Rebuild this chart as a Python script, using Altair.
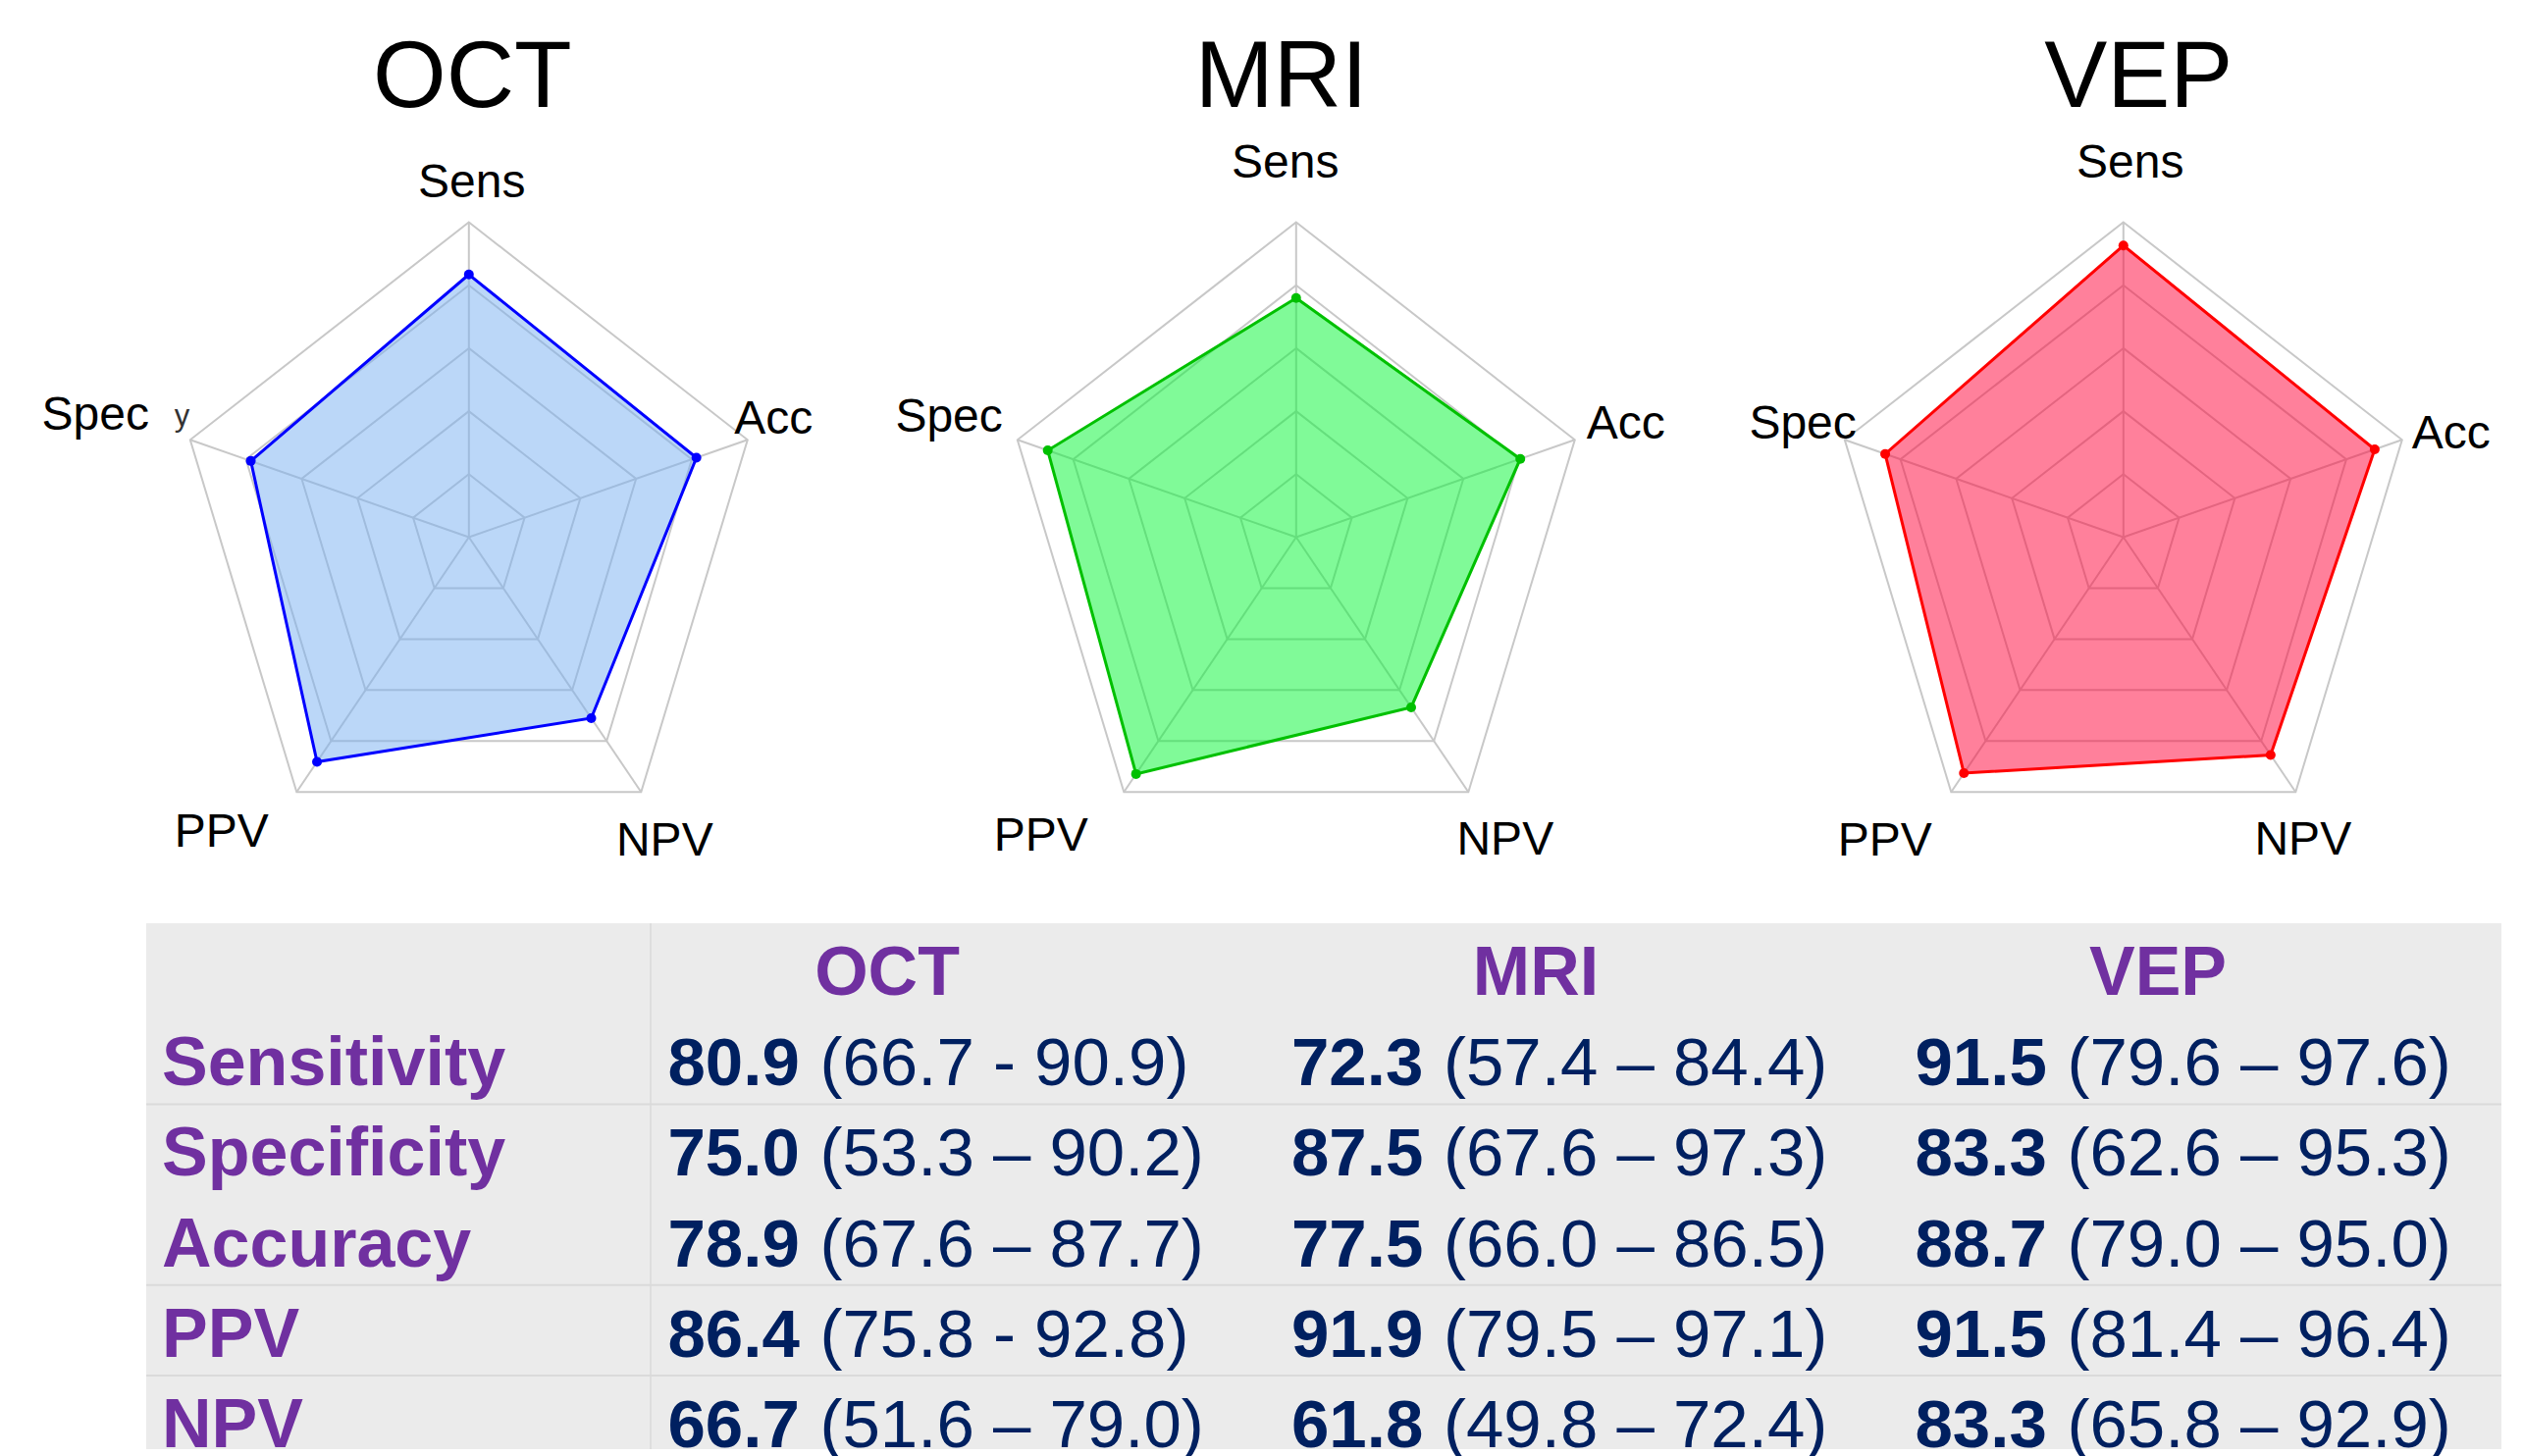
import math
import altair as alt
import pandas as pd

# ------------------------------------------------------------------ data
modalities = ["OCT", "MRI", "VEP"]
metric_names = ["Sensitivity", "Specificity", "Accuracy", "PPV", "NPV"]
metric_short = ["Sens", "Spec", "Acc", "PPV", "NPV"]

oct_est = [80.9, 75.0, 78.9, 86.4, 66.7]
oct_low = [66.7, 53.3, 67.6, 75.8, 51.6]
oct_high = [90.9, 90.2, 87.7, 92.8, 79.0]
oct_sep = ["-", "–", "–", "-", "–"]

mri_est = [72.3, 87.5, 77.5, 91.9, 61.8]
mri_low = [57.4, 67.6, 66.0, 79.5, 49.8]
mri_high = [84.4, 97.3, 86.5, 97.1, 72.4]
mri_sep = ["–", "–", "–", "–", "–"]

vep_est = [91.5, 83.3, 88.7, 91.5, 83.3]
vep_low = [79.6, 62.6, 79.0, 81.4, 65.8]
vep_high = [97.6, 95.3, 95.0, 96.4, 92.9]
vep_sep = ["–", "–", "–", "–", "–"]

radar_axis_order = ["Sens", "Acc", "NPV", "PPV", "Spec"]  # clockwise from top
radial_min, radial_max = -15.0, 100.0
ring_count = 5

# ------------------------------------------------------------------ style / layout
FONT = "Liberation Sans"
PURPLE = "#7030A0"
NAVY = "#002060"
GRID = "#c8c8c8"

PANEL_W, PANEL_H = 843, 932
CX, CY = 469.8, 539.5
RH, RV = 298.6, 321.0
XDOM = [-CX / RH, (PANEL_W - CX) / RH]
YDOM = [-(PANEL_H - CY) / RV, CY / RV]

radar_style = {
    "OCT": dict(line="#0000ff", fill="#77AFF1", title_dx=3.5,
                labels={"Sens": (3, -346.7, "center"), "Acc": (270.5, -105.5, "left"),
                        "NPV": (199.5, 324.6, "center"), "PPV": (-252, 315.9, "center"),
                        "Spec": (-325.8, -110, "right")}),
    "MRI": dict(line="#00c000", fill="#01F531", title_dx=-15,
                labels={"Sens": (-11, -366.7, "center"), "Acc": (296, -101, "left"),
                        "NPV": (213, 323, "center"), "PPV": (-260, 319, "center"),
                        "Spec": (-299, -108, "right")}),
    "VEP": dict(line="#ff0000", fill="#FF0137", title_dx=15.4,
                labels={"Sens": (7, -366.5, "center"), "Acc": (294, -91, "left"),
                        "NPV": (183, 323.8, "center"), "PPV": (-243, 324.8, "center"),
                        "Spec": (-272, -101, "right")}),
}


def polar(frac, k):
    a = math.radians(72 * k)
    return frac * math.sin(a), frac * math.cos(a)


def radar(name, est):
    st = radar_style[name]
    xs = alt.Scale(domain=XDOM, nice=False, zero=False)
    ys = alt.Scale(domain=YDOM, nice=False, zero=False)

    def X(f):
        return alt.X(f, type="quantitative", scale=xs, axis=None)

    def Y(f):
        return alt.Y(f, type="quantitative", scale=ys, axis=None)

    ring_rows = []
    for i in range(1, ring_count + 1):
        for k in range(5):
            x, y = polar(i / ring_count, k)
            ring_rows.append({"ring": i, "k": k, "x": x, "y": y})
    rings = alt.Chart(pd.DataFrame(ring_rows)).mark_line(
        interpolate="linear-closed", color=GRID, strokeWidth=2
    ).encode(x=X("x"), y=Y("y"), detail="ring:N", order="k:Q")

    spoke_rows = []
    for k in range(5):
        x, y = polar(1.0, k)
        spoke_rows.append({"k": k, "x0": 0.0, "y0": 0.0, "x1": x, "y1": y})
    spokes = alt.Chart(pd.DataFrame(spoke_rows)).mark_rule(color=GRID, strokeWidth=2).encode(
        x=X("x0"), y=Y("y0"), x2="x1:Q", y2="y1:Q"
    )

    vals = dict(zip(metric_short, est))
    poly_rows = []
    for k, ax in enumerate(radar_axis_order):
        frac = (vals[ax] - radial_min) / (radial_max - radial_min)
        x, y = polar(frac, k)
        poly_rows.append({"axis": ax, "k": k, "x": x, "y": y, "value": vals[ax]})
    poly = pd.DataFrame(poly_rows)

    fill = alt.Chart(poly).mark_line(
        interpolate="linear-closed", fill=st["fill"], fillOpacity=0.5, strokeOpacity=0
    ).encode(x=X("x"), y=Y("y"), order="k:Q")
    outline = alt.Chart(poly).mark_line(
        interpolate="linear-closed", color=st["line"], strokeWidth=3
    ).encode(x=X("x"), y=Y("y"), order="k:Q")
    points = alt.Chart(poly).mark_circle(size=100, opacity=1, color=st["line"]).encode(
        x=X("x"), y=Y("y")
    )

    layers = [rings, spokes, fill, outline, points]

    for align in ["left", "center", "right"]:
        rows = []
        for ax, (dx, dy, al) in st["labels"].items():
            if al == align:
                rows.append({"label": ax, "x": dx / RH, "y": -dy / RV})
        if rows:
            layers.append(
                alt.Chart(pd.DataFrame(rows)).mark_text(
                    align=align, baseline="alphabetic", font=FONT, fontSize=48, color="black"
                ).encode(x=X("x"), y=Y("y"), text="label:N")
            )

    layers.append(
        alt.Chart(pd.DataFrame([{"t": name, "x": st["title_dx"] / RH, "y": 438.5 / RV}])).mark_text(
            align="center", baseline="alphabetic", font=FONT, fontSize=96, color="black"
        ).encode(x=X("x"), y=Y("y"), text="t:N")
    )
    if name == "OCT":
        layers.append(
            alt.Chart(pd.DataFrame([{"t": "y", "x": -300 / RH, "y": 114 / RV}])).mark_text(
                align="left", baseline="alphabetic", font=FONT, fontSize=31, color="#333333"
            ).encode(x=X("x"), y=Y("y"), text="t:N")
        )
    return alt.layer(*layers).properties(width=PANEL_W, height=PANEL_H)


# ------------------------------------------------------------------ table
TABLE_W, TABLE_H = 2400, 536
ROW_H = 92.2
COL_START, COL_W = 514, 635.5
header_dx = {"OCT": 241, "MRI": 266.5, "VEP": 265}
separated_rows = ["Sensitivity", "Accuracy", "PPV"]

cell_rows = []
for m, est, low, high, sep in zip(
    modalities,
    [oct_est, mri_est, vep_est],
    [oct_low, mri_low, vep_low],
    [oct_high, mri_high, vep_high],
    [oct_sep, mri_sep, vep_sep],
):
    for i, metric in enumerate(metric_names):
        cell_rows.append({
            "modality": m, "row": metric,
            "est": f"{est[i]:.1f}",
            "ci": f"({low[i]:.1f} {sep[i]} {high[i]:.1f})",
        })
cells = pd.DataFrame(cell_rows)

col_scale = alt.Scale(domain=modalities, range=[COL_START, COL_START + 3 * COL_W],
                      paddingInner=0, paddingOuter=0)
row_scale = alt.Scale(domain=["header"] + metric_names, range=[0, 6 * ROW_H],
                      paddingInner=0, paddingOuter=0)


def TX(b=0.0):
    return alt.X("modality:N", scale=col_scale, axis=None, bandPosition=b)


def TY(b=0.0):
    return alt.Y("row:N", scale=row_scale, axis=None, bandPosition=b)


t_layers = []
hsep = alt.Chart(pd.DataFrame({"row": separated_rows})).mark_rule(
    color="#dadada", strokeWidth=2
).encode(y=TY(1.0), x=alt.value(0), x2=alt.value(TABLE_W))
vsep = alt.Chart(pd.DataFrame({"modality": ["OCT"]})).mark_rule(
    color="#dadada", strokeWidth=1.5
).encode(x=TX(0.0), y=alt.value(0), y2=alt.value(TABLE_H))
t_layers += [hsep, vsep]

head_df = pd.DataFrame({"modality": modalities, "row": ["header"] * 3})
for m in modalities:
    t_layers.append(
        alt.Chart(head_df).transform_filter(alt.datum.modality == m).mark_text(
            align="center", baseline="alphabetic", dx=header_dx[m], dy=73,
            font=FONT, fontSize=70, fontWeight="bold", color=PURPLE
        ).encode(x=TX(0.0), y=TY(0.0), text="modality:N")
    )

t_layers.append(
    alt.Chart(pd.DataFrame({"row": metric_names})).mark_text(
        align="left", baseline="alphabetic", dy=73,
        font=FONT, fontSize=70, fontWeight="bold", color=PURPLE
    ).encode(x=alt.value(16), y=TY(0.0), text="row:N")
)
t_layers.append(
    alt.Chart(cells).mark_text(
        align="left", baseline="alphabetic", dx=17.5, dy=73,
        font=FONT, fontSize=69, fontWeight="bold", color=NAVY
    ).encode(x=TX(0.0), y=TY(0.0), text="est:N")
)
t_layers.append(
    alt.Chart(cells).mark_text(
        align="left", baseline="alphabetic", dx=17.5 + 155, dy=73,
        font=FONT, fontSize=69, color=NAVY
    ).encode(x=TX(0.0), y=TY(0.0), text="ci:N")
)

table = alt.layer(*t_layers).properties(
    width=TABLE_W, height=TABLE_H,
    view=alt.ViewBackground(fill="#EBEBEB", strokeWidth=0),
)

spacer = alt.Chart(pd.DataFrame({"v": [0]})).mark_point(opacity=0).encode(
    x=alt.X("v:Q", axis=None), y=alt.Y("v:Q", axis=None)
).properties(width=141, height=TABLE_H)

top_row = alt.hconcat(radar("OCT", oct_est), radar("MRI", mri_est), radar("VEP", vep_est),
                      spacing=0, bounds="flush")
bottom_row = alt.hconcat(spacer, table, spacing=0, bounds="flush")

chart = alt.vconcat(top_row, bottom_row, spacing=0).properties(
    padding=0
).configure_view(strokeWidth=0)

chart.save("out.html", embed_options={"renderer": "svg", "actions": False})
